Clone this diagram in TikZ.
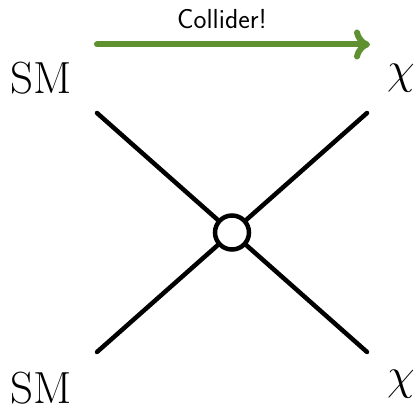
\documentclass[tikz,border=0pt]{standalone}
\usetikzlibrary{arrows.meta}
\definecolor{colgreen}{RGB}{96,145,48}
\tikzset{
  leg/.style={line width=4.5pt, black},
  vtx/.style={circle, draw=black, fill=white, line width=4.5pt, minimum size=34pt, inner sep=0pt},
  lab/.style={font=\fontsize{45}{50}\selectfont, inner sep=0pt},
  chilab/.style={font=\fontsize{24.88}{30}\selectfont, inner sep=0pt, scale=1.809},
  arr/.style={line width=6pt, colgreen, -{Computer Modern Rightarrow[length=16pt,width=30pt]}, line cap=round}
}
\begin{document}
\begin{tikzpicture}[x=1pt,y=-1pt]
\useasboundingbox (0,0) rectangle (417,406);
\coordinate (tl) at (97,113);
\coordinate (bl) at (97,352);
\coordinate (tr) at (367,113);
\coordinate (br) at (367,352);
\coordinate (c) at (232,232.5);
\draw[leg, line cap=round] (tl) -- (br);
\draw[leg, line cap=round] (bl) -- (tr);
\node[vtx] (v) at (c) {};
\node[lab] (sm1) at (41,78) {SM};
\node[lab] (sm2) at (41,388) {SM};
\node[chilab] (chi1) at (401,78.5) {$\chi$};
\node[chilab] (chi2) at (401,384) {$\chi$};
\coordinate (a0) at (97,44.5);
\coordinate (a1) at (370,44.5);
\draw[arr] (a0) -- (a1);
\node[font=\sffamily\fontsize{27.5}{30}\selectfont, inner sep=0pt, anchor=base] (col) at (222,28.5) {Collider!};
\end{tikzpicture}
\end{document}
